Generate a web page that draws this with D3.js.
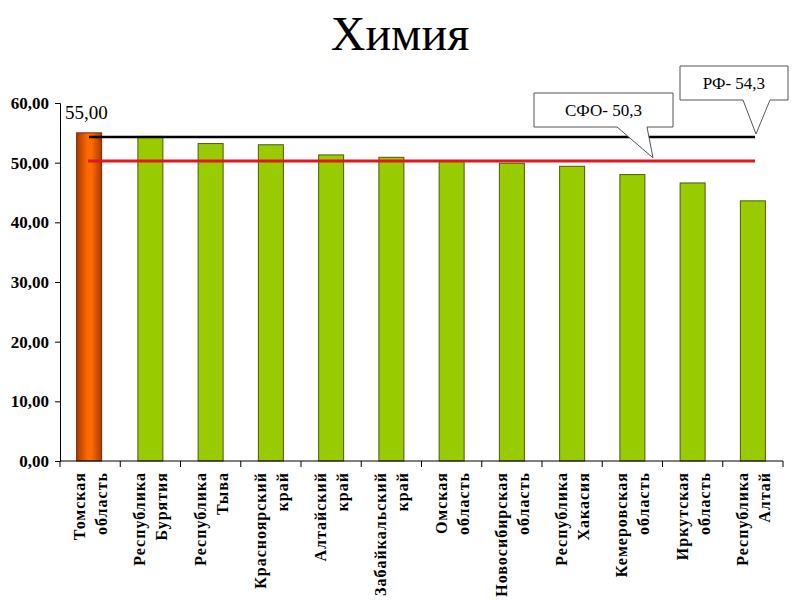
<!DOCTYPE html>
<html><head><meta charset="utf-8">
<script src="https://cdn.jsdelivr.net/npm/d3@7"></script>
<style>body{margin:0;background:#fff}svg{display:block}</style>
</head><body>
<svg id="c" width="800" height="600"></svg>
<script>
const categories = [
  ["Томская","область"],["Республика","Бурятия"],["Республика","Тыва"],
  ["Красноярский","край"],["Алтайский","край"],["Забайкальский","край"],
  ["Омская","область"],["Новосибирская","область"],["Республика","Хакасия"],
  ["Кемеровская","область"],["Иркутская","область"],["Республика","Алтай"]
];
const values = [55.0, 54.4, 53.2, 53.0, 51.3, 50.9, 50.3, 49.9, 49.4, 48.0, 46.6, 43.6];
const yTicks = [0,10,20,30,40,50,60];
const refRF = 54.3, refSFO = 50.3;
const title = "Химия";

const svg = d3.select("#c");
const serif = "'Liberation Serif','Times New Roman',serif";
const x = d3.scaleBand().domain(d3.range(categories.length)).range([60,783]).paddingInner(0).paddingOuter(0);
const y = d3.scaleLinear().domain([0,60]).range([461,103]);

const defs = svg.append("defs");
const g1 = defs.append("linearGradient").attr("id","og").attr("x1","0").attr("x2","1").attr("y1","0").attr("y2","0");
g1.append("stop").attr("offset","0").attr("stop-color","#a83a00");
g1.append("stop").attr("offset","0.45").attr("stop-color","#ff6a00");
g1.append("stop").attr("offset","0.6").attr("stop-color","#ff6a00");
g1.append("stop").attr("offset","1").attr("stop-color","#a83a00");

svg.append("text").attr("x",400).attr("y",50).attr("text-anchor","middle")
  .attr("font-family",serif).attr("font-size",48).text(title);

const bw = 25;
svg.selectAll("rect.bar").data(values).join("rect").attr("class","bar")
  .attr("x",(d,i)=>x(i)+x.bandwidth()/2-bw/2 - (i===0?1:0))
  .attr("y",d=>y(d)).attr("width",bw).attr("height",d=>y(0)-y(d))
  .attr("fill",(d,i)=>i===0?"url(#og)":"#99cc00")
  .attr("stroke",(d,i)=>i===0?"#7a2a00":"#4a5a10").attr("stroke-width",1);

// y axis
const ya = svg.append("g").attr("transform","translate(60,0)")
  .call(d3.axisLeft(y).tickValues(yTicks).tickSize(5).tickFormat(d=>d3.format(".2f")(d).replace(".",",")));
ya.select(".domain").attr("stroke","#000");
ya.selectAll("text").attr("font-family",serif).attr("font-weight","bold").attr("font-size",17).attr("fill","#000").attr("dx",-3);

// x axis
const xa = svg.append("g").attr("transform",`translate(0,${y(0)})`);
xa.append("line").attr("x1",60).attr("x2",783).attr("stroke","#000");
xa.selectAll("line.t").data(d3.range(categories.length+1)).join("line").attr("class","t")
  .attr("x1",i=>60+i*x.bandwidth()).attr("x2",i=>60+i*x.bandwidth()).attr("y1",0).attr("y2",6).attr("stroke","#000");

const lab = svg.append("g");
categories.forEach((c,i)=>{
  const cx = x(i)+x.bandwidth()/2;
  c.forEach((t,j)=>{
    lab.append("text").attr("transform",`translate(${cx + (j===0?-5:17)},472) rotate(-90)`)
      .attr("text-anchor","end").attr("font-family",serif).attr("font-weight","bold")
      .attr("font-size",16).attr("letter-spacing",1).text(t);
  });
});

// reference lines
svg.append("line").attr("x1",89).attr("x2",755).attr("y1",y(refRF)).attr("y2",y(refRF)).attr("stroke","#000").attr("stroke-width",2.5);
svg.append("line").attr("x1",88).attr("x2",755).attr("y1",y(refSFO)).attr("y2",y(refSFO)).attr("stroke","#e8141c").attr("stroke-width",3);

// value label
svg.append("text").attr("x",65).attr("y",119).attr("font-family",serif).attr("font-size",19).text(d3.format(".2f")(values[0]).replace(".",","));

// callouts
function callout(bx,by,bw2,bh,p1,p2,tx,ty,text){
  const path = `M${bx},${by} H${bx+bw2} V${by+bh} H${p2} L${tx},${ty} L${p1},${by+bh} H${bx} Z`;
  svg.append("path").attr("d",path).attr("fill","#fff").attr("stroke","#555").attr("stroke-width",1);
  svg.append("text").attr("x",bx+bw2/2).attr("y",by+bh/2+6).attr("text-anchor","middle")
    .attr("font-family",serif).attr("font-size",17).text(text);
}
callout(534,93,139,34,617,647,653,y(refSFO)-3,"СФО- "+String(refSFO).replace(".",","));
callout(680,66,108,34,743,770,756,y(refRF)-3,"РФ- "+String(refRF).replace(".",","));
</script>
</body></html>
